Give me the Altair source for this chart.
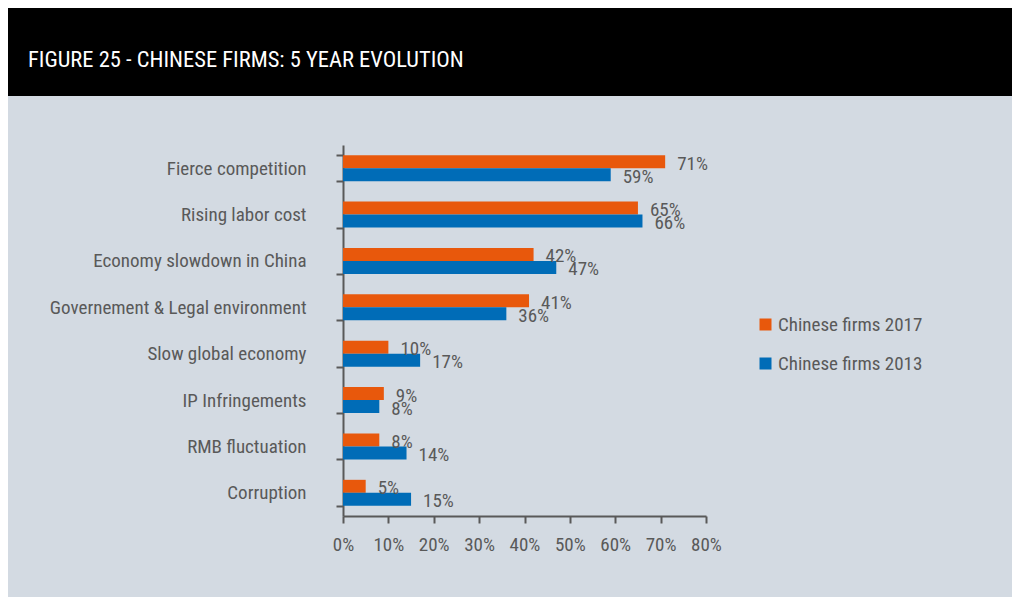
import altair as alt
import pandas as pd

categories = [
    "Fierce competition",
    "Rising labor cost",
    "Economy slowdown in China",
    "Governement & Legal environment",
    "Slow global economy",
    "IP Infringements",
    "RMB fluctuation",
    "Corruption",
]
series_names = ["Chinese firms 2017", "Chinese firms 2013"]
values_2017 = [71, 65, 42, 41, 10, 9, 8, 5]
values_2013 = [59, 66, 47, 36, 17, 8, 14, 15]
x_ticks = [0, 0.1, 0.2, 0.3, 0.4, 0.5, 0.6, 0.7, 0.8]
title_text = "FIGURE 25 - CHINESE FIRMS: 5 YEAR EVOLUTION"

colors = ["#e8580c", "#006cb7"]
grey = "#595959"
font = "Roboto Condensed, DejaVu Sans Condensed, Roboto"
title_font = "Roboto Condensed, DejaVu Sans Condensed, Roboto"
fs = 19

rows = []
for c, v17, v13 in zip(categories, values_2017, values_2013):
    rows.append({"category": c, "series": series_names[0], "value": v17 / 100, "label": f"{v17}%"})
    rows.append({"category": c, "series": series_names[1], "value": v13 / 100, "label": f"{v13}%"})
df = pd.DataFrame(rows)

y_enc = alt.Y(
    "category:N",
    sort=categories,
    title=None,
    scale=alt.Scale(paddingInner=0.44, paddingOuter=0.22),
    axis=alt.Axis(
        tickBand="extent",
        labelFontSize=fs,
        labelColor=grey,
        labelFont=font,
        labelPadding=30,
        labelLimit=400,
        tickSize=7,
        tickColor=grey,
        tickWidth=2,
        domainColor=grey,
        domainWidth=2,
        grid=False,
    ),
)
yoff = alt.YOffset("series:N", sort=series_names, scale=alt.Scale(paddingInner=0, paddingOuter=0))

bars = alt.Chart(df).mark_bar(size=13).encode(
    x=alt.X(
        "value:Q",
        title=None,
        scale=alt.Scale(domain=[0, 0.8], nice=False),
        axis=alt.Axis(
            values=x_ticks,
            format=".0%",
            labelFontSize=fs,
            labelColor=grey,
            labelFont=font,
            labelPadding=12,
            labelOverlap=False,
            labelFlush=False,
            tickSize=7,
            tickColor=grey,
            tickWidth=2,
            domainColor=grey,
            domainWidth=2,
            grid=False,
        ),
    ),
    y=y_enc,
    yOffset=yoff,
    color=alt.Color(
        "series:N",
        sort=series_names,
        scale=alt.Scale(domain=series_names, range=colors),
        legend=alt.Legend(
            title=None,
            orient="none",
            legendX=413,
            legendY=170,
            symbolType="square",
            symbolSize=144,
            symbolStrokeWidth=0,
            labelFontSize=fs,
            labelColor=grey,
            labelFont=font,
            labelOffset=3,
            labelLimit=300,
            rowPadding=19,
        ),
    ),
)

labels = alt.Chart(df).mark_text(
    align="left", baseline="middle", dx=12, dy=2, fontSize=fs, color=grey, font=font
).encode(
    x="value:Q",
    y=alt.Y("category:N", sort=categories),
    yOffset=yoff,
    text="label:N",
)

header = alt.Chart(pd.DataFrame({"t": [title_text]})).mark_rect(color="black").encode(
    x=alt.value(-335), x2=alt.value(669), y=alt.value(-137), y2=alt.value(-49)
)
header_text = alt.Chart(pd.DataFrame({"t": [title_text]})).mark_text(
    align="left", baseline="middle", color="white", fontSize=22.5, font=title_font
).encode(x=alt.value(-315), y=alt.value(-85), text="t:N")

chart = alt.layer(header, header_text, bars, labels).properties(
    width=363,
    height=371,
    background="#d3dae2",
    padding={"left": 0, "top": 0, "right": 0, "bottom": 43},
).configure_view(stroke=None)

chart.save("out.html", embed_options={"renderer": "svg", "actions": False})
